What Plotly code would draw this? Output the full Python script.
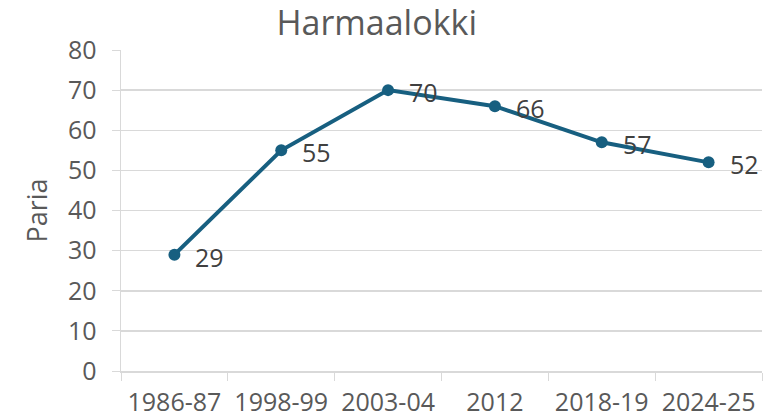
import plotly.graph_objects as go

categories = ["1986-87", "1998-99", "2003-04", "2012", "2018-19", "2024-25"]
values = [29, 55, 70, 66, 57, 52]
y_ticks = [0, 10, 20, 30, 40, 50, 60, 70, 80]

LINE = "#175f80"
GRID = "#d9d9d9"
TXT = "#595959"
FONT = "Open Sans, Liberation Sans, Arial, sans-serif"

W, H = 780, 420

fig = go.Figure()
fig.add_trace(go.Scatter(
    x=categories, y=values, mode="lines+markers",
    line=dict(color=LINE, width=4),
    marker=dict(color=LINE, size=12),
    hoverinfo="skip", showlegend=False,
))

for i, v in enumerate(values):
    fig.add_annotation(x=i, y=v, text=str(v), showarrow=False,
                       xanchor="left", yanchor="middle", xshift=19, yshift=-2,
                       font=dict(family=FONT, size=25, color="#404040"))

fig.update_layout(
    width=W, height=H,
    margin=dict(l=121, r=18, t=50, b=49, autoexpand=False),
    paper_bgcolor="white", plot_bgcolor="white",
    font=dict(family=FONT, color=TXT, size=25),
    title=dict(text="Harmaalokki", x=0.483, xanchor="center", y=0.945, yanchor="middle",
               font=dict(family=FONT, size=34, color=TXT)),
)
fig.update_xaxes(
    type="category", range=[-0.5, len(categories) - 0.5],
    tickson="boundaries", ticks="outside", ticklen=8, tickcolor=GRID,
    showline=True, linecolor=GRID, linewidth=1.5, ticklabelstandoff=8,
    showgrid=False, tickfont=dict(size=25, color=TXT), automargin=False,
)
fig.update_yaxes(
    range=[0, 80], tickvals=y_ticks, ticktext=[str(t) for t in y_ticks],
    showgrid=True, gridcolor=GRID, gridwidth=1.5,
    ticks="outside", ticklen=8, tickcolor=GRID, ticklabelstandoff=10,
    showline=True, linecolor=GRID, linewidth=1.5, zeroline=False,
    tickfont=dict(size=25, color=TXT), automargin=False,
    title=dict(text="Paria", font=dict(size=27, color=TXT), standoff=12),
)

fig.write_html("out.html", config={"displayModeBar": False, "staticPlot": True},
               post_script="document.body.style.margin='0';")
